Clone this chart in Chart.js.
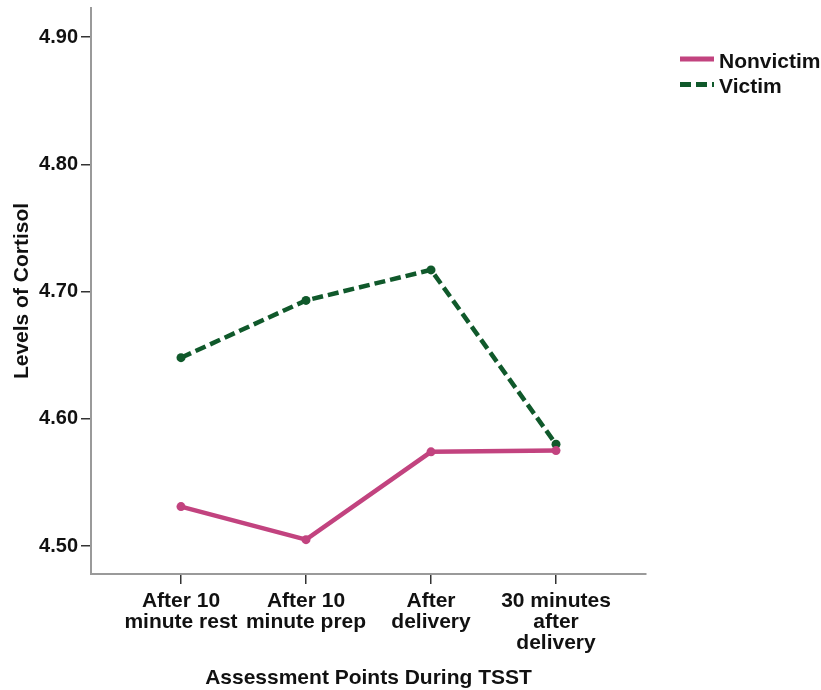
<!DOCTYPE html>
<html>
<head>
<meta charset="utf-8">
<script src="https://cdn.jsdelivr.net/npm/chart.js@4"></script>
<style>
  html, body { margin: 0; padding: 0; background: #ffffff; }
  #wrap { width: 821px; height: 690px; position: relative; }
</style>
</head>
<body>
<div id="wrap"><canvas id="chart"></canvas></div>
<script>
// Assessment points (multi-line tick labels)
const categories = [
  ["After 10", "minute rest"],
  ["After 10", "minute prep"],
  ["After", "delivery"],
  ["30 minutes", "after", "delivery"]
];
const nonvictim = [4.531, 4.505, 4.574, 4.575];
const victim = [4.648, 4.693, 4.717, 4.580];
const yTicks = [4.50, 4.60, 4.70, 4.80, 4.90];

const FONT = "'Liberation Sans', Arial, sans-serif";
const PINK = "#c2437f";
const GREEN = "#10592b";

const toPoints = arr => arr.map((v, i) => ({ x: i, y: v }));

// Legend drawn beside the plot, top right
const sideLegend = {
  id: 'sideLegend',
  afterDraw(chart) {
    const ctx = chart.ctx;
    const x0 = chart.chartArea.right + 34;
    let y = 62;
    ctx.save();
    chart.data.datasets.forEach(ds => {
      ctx.strokeStyle = ds.borderColor;
      ctx.lineWidth = 5;
      ctx.setLineDash(ds.borderDash || []);
      ctx.beginPath();
      ctx.moveTo(x0, y - 3);
      ctx.lineTo(x0 + 34, y - 3);
      ctx.stroke();
      ctx.setLineDash([]);
      ctx.fillStyle = '#111';
      ctx.font = "bold 21px " + FONT;
      ctx.textBaseline = 'middle';
      ctx.textAlign = 'left';
      ctx.fillText(ds.label, x0 + 39, y);
      y += 25.5;
    });
    ctx.restore();
  }
};

new Chart(document.getElementById('chart'), {
  type: 'line',
  data: {
    datasets: [
      {
        label: 'Nonvictim',
        data: toPoints(nonvictim),
        borderColor: PINK,
        backgroundColor: PINK,
        borderWidth: 4.5,
        pointRadius: 4.5,
        pointBorderWidth: 0,
        pointHoverRadius: 4.5,
        tension: 0
      },
      {
        label: 'Victim',
        data: toPoints(victim),
        borderColor: GREEN,
        backgroundColor: GREEN,
        borderWidth: 4.5,
        borderDash: [11, 5],
        pointRadius: 4.5,
        pointBorderWidth: 0,
        pointHoverRadius: 4.5,
        tension: 0
      }
    ]
  },
  options: {
    responsive: true,
    maintainAspectRatio: false,
    animation: false,
    events: [],
    layout: { padding: { top: 8, right: 175, bottom: 0, left: 0 } },
    plugins: {
      legend: { display: false },
      tooltip: { enabled: false }
    },
    scales: {
      x: {
        type: 'linear',
        min: -0.72,
        max: 3.72,
        afterBuildTicks: s => { s.ticks = categories.map((c, i) => ({ value: i })); },
        afterFit: s => { s.height = 116; s.paddingLeft = 0; s.paddingRight = 0; },
        ticks: {
          autoSkip: false,
          maxRotation: 0,
          padding: 7,
          color: '#111',
          font: { family: FONT, size: 21, weight: 'bold', lineHeight: 1.0 },
          callback: v => categories[v]
        },
        grid: { drawOnChartArea: false, drawTicks: true, tickLength: 10, color: '#333', lineWidth: 1.5 },
        border: { display: true, color: '#9a9a9a', width: 2 },
        title: {
          display: true,
          text: 'Assessment Points During TSST',
          color: '#111',
          font: { family: FONT, size: 21, weight: 'bold', lineHeight: 1.1 },
          padding: { top: 0, bottom: 0 }
        }
      },
      y: {
        min: 4.478,
        max: 4.9228,
        afterBuildTicks: s => { s.ticks = yTicks.map(v => ({ value: v })); },
        afterFit: s => { s.width = 91; s.paddingTop = 0; s.paddingBottom = 0; },
        ticks: {
          padding: 3,
          color: '#111',
          font: { family: FONT, size: 20, weight: 'bold' },
          callback: v => Number(v).toFixed(2)
        },
        grid: { drawOnChartArea: false, drawTicks: true, tickLength: 10, color: '#333', lineWidth: 1.5 },
        border: { display: true, color: '#9a9a9a', width: 2 },
        title: {
          display: true,
          text: 'Levels of Cortisol',
          color: '#111',
          font: { family: FONT, size: 21, weight: 'bold' },
          padding: { top: 10, bottom: 0 }
        }
      }
    }
  },
  plugins: [sideLegend]
});
</script>
</body>
</html>
